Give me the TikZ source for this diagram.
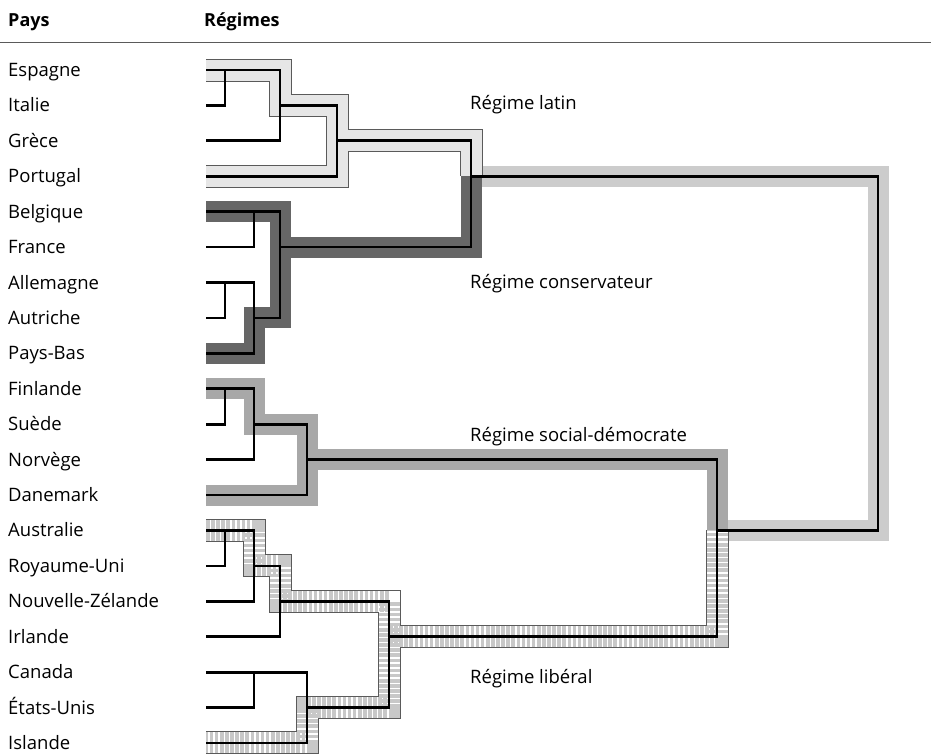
\documentclass[tikz,border=0pt]{standalone}
\usepackage{fontspec}
\setmainfont{Open Sans}
\usetikzlibrary{positioning}

\definecolor{latingray}{HTML}{E6E6E6}
\definecolor{consgray}{HTML}{666666}
\definecolor{socgray}{HTML}{A8A8A8}
\definecolor{maingray}{HTML}{CCCCCC}
\definecolor{libgray}{HTML}{C8C8C8}
\definecolor{edgegray}{HTML}{5A5A5A}

\tikzset{
  lbl/.style={font=\fontsize{18.5pt}{22pt}\selectfont, inner sep=0pt, anchor=base west},
  tree/.style={line width=2.7pt, line join=miter, line cap=butt},
  band/.style={line width=21pt, line join=miter, line cap=butt},
  bandedge/.style={line width=23pt, draw=edgegray, line join=miter, line cap=butt},
  stripes/.style={band, draw=libgray, dash pattern=on 3.6pt off 1.5pt},
}

\begin{document}
\begin{tikzpicture}[x=1pt, y=-1pt]
    \useasboundingbox (0,0) rectangle (931,755);

    % en-tete
    \node[lbl, font=\fontsize{18pt}{22pt}\selectfont\bfseries] (pays) at (8,26) {Pays};
    \node[lbl, font=\fontsize{18pt}{22pt}\selectfont\bfseries] (regimes) at (204,26) {Régimes};
    \draw[edgegray, line width=0.9pt] (0,42) -- (931,42);

    % noms des regimes
    \node[lbl] (latin) at (470,109) {Régime latin};
    \node[lbl] (cons) at (470,288) {Régime conservateur};
    \node[lbl] (soc) at (470,441) {Régime social-démocrate};
    \node[lbl] (lib) at (470,683) {Régime libéral};

    \begin{scope}[yshift=-70pt, y=-35.42pt]
        % pays (une ligne par pays)
        \foreach \pays [count=\i from 0] in {Espagne, Italie, Grèce, Portugal,
            Belgique, France, Allemagne, Autriche, Pays-Bas, Finlande, Suède,
            Norvège, Danemark, Australie, Royaume-Uni, Nouvelle-Zélande,
            Irlande, Canada, États-Unis, Islande} {
            \node[lbl, yshift=-6.5pt] (p\i) at (8,\i) {\pays};
        }

        % bande commune
        \draw[band, draw=maingray] (471,3) -- (878,3) -- (878,13) -- (717,13);

        % bande latine
        \draw[bandedge] (206,0) -- (280,0) -- (280,1) -- (337,1) -- (337,3) -- (206,3)
            (337,2) -- (471,2) -- (471,3);
        \draw[band, draw=latingray] (206,0) -- (280,0) -- (280,1) -- (337,1) -- (337,3) -- (206,3)
            (337,2) -- (471,2) -- (471,3);

        % bande conservatrice
        \draw[band, draw=consgray] (206,4) -- (280,4) -- (280,7) -- (254,7) -- (254,8) -- (206,8)
            (280,5) -- (471,5) -- (471,3);

        % bande sociale-democrate
        \draw[band, draw=socgray] (206,9) -- (254,9) -- (254,10) -- (307,10) -- (307,12) -- (206,12)
            (307,11) -- (717,11) -- (717,13);

        % bande liberale (hachuree)
        \draw[bandedge] (206,13) -- (254,13) -- (254,14) -- (280,14) -- (280,15) -- (389,15)
            -- (389,18) -- (307,18) -- (307,19) -- (206,19)
            (389,16) -- (717,16) -- (717,13);
        \draw[band, draw=white] (206,13) -- (254,13) -- (254,14) -- (280,14) -- (280,15) -- (389,15)
            -- (389,18) -- (307,18) -- (307,19) -- (206,19)
            (389,16) -- (717,16) -- (717,13);
        \draw[stripes] (206,13) -- (254,13) -- (254,14) -- (280,14) -- (280,15) -- (389,15)
            -- (389,18) -- (307,18) -- (307,19) -- (206,19)
            (389,16) -- (717,16) -- (717,13);

        % arbre : groupe latin
        \draw[tree] (206,0) -- (280,0) -- (280,2) -- (206,2);
        \draw[tree] (206,1) -- (225,1) -- (225,0);
        \draw[tree] (280,1) -- (337,1) -- (337,3) -- (206,3);
        \draw[tree] (337,2) -- (471,2) -- (471,5) -- (280,5);
        \draw[tree] (471,3) -- (878,3) -- (878,13) -- (717,13);

        % arbre : groupe conservateur
        \draw[tree] (206,4) -- (280,4) -- (280,7) -- (254,7);
        \draw[tree] (206,5) -- (254,5) -- (254,4);
        \draw[tree] (206,6) -- (254,6) -- (254,8) -- (206,8);
        \draw[tree] (206,7) -- (225,7) -- (225,6);

        % arbre : groupe social-democrate
        \draw[tree] (206,9) -- (254,9) -- (254,11) -- (206,11);
        \draw[tree] (206,10) -- (225,10) -- (225,9);
        \draw[tree] (254,10) -- (307,10) -- (307,12) -- (206,12);
        \draw[tree] (307,11) -- (717,11) -- (717,16) -- (389,16);

        % arbre : groupe liberal
        \draw[tree] (206,13) -- (254,13) -- (254,15) -- (206,15);
        \draw[tree] (206,14) -- (225,14) -- (225,13);
        \draw[tree] (254,14) -- (280,14) -- (280,16) -- (206,16);
        \draw[tree] (280,15) -- (389,15) -- (389,18) -- (307,18);
        \draw[tree] (206,17) -- (307,17) -- (307,19) -- (206,19);
        \draw[tree] (206,18) -- (254,18) -- (254,17);
    \end{scope}
\end{tikzpicture}
\end{document}
